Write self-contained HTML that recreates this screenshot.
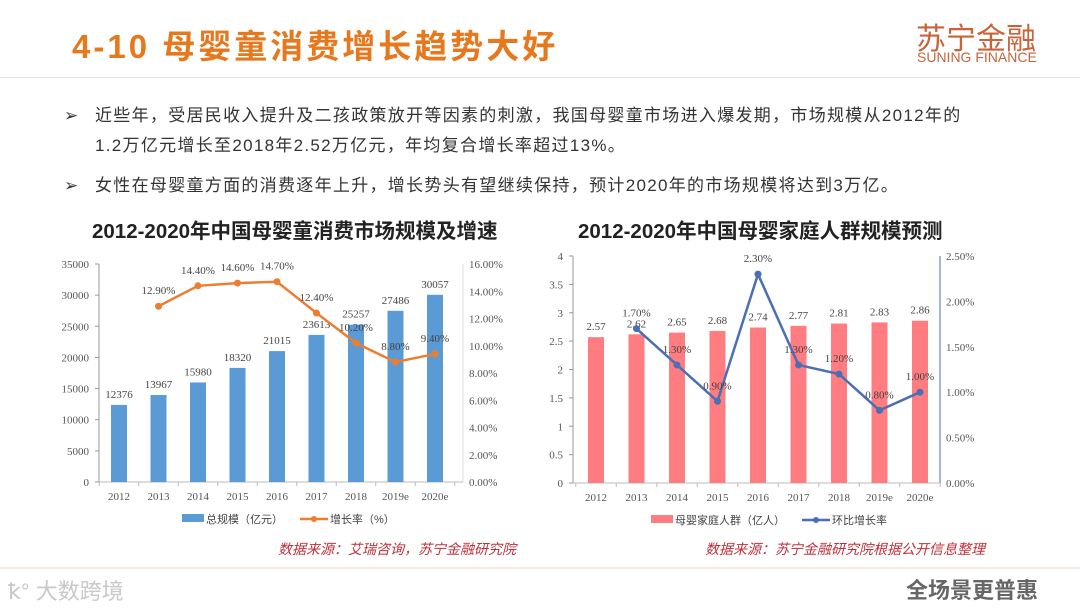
<!DOCTYPE html>
<html><head><meta charset="utf-8">
<style>
body{margin:0;width:1080px;height:608px;background:#fff;overflow:hidden;font-family:"Liberation Sans","Noto Sans CJK SC",sans-serif;position:relative}
.abs{position:absolute}
</style></head><body>
<div class="abs" style="left:72px;top:20px;font-size:33px;font-weight:bold;color:#e6781e;letter-spacing:3px;font-family:'Liberation Sans','Noto Sans CJK SC',sans-serif;white-space:nowrap">4-10 母婴童消费增长趋势大好</div>
<div class="abs" style="left:916px;top:14px;font-size:30px;color:#c8633a;white-space:nowrap">苏宁金融</div>
<div class="abs" style="left:917px;top:49px;font-size:14px;color:#c8633a;white-space:nowrap">SUNING FINANCE</div>
<div class="abs" style="left:0;top:77px;width:1080px;height:1px;background:#e6e0da"></div>
<div class="abs" style="left:64px;top:101px;font-size:17px;color:#333;line-height:30px;width:1010px;letter-spacing:1.3px">
<span style="position:absolute;left:0">➢</span><div style="margin-left:31px">近些年，受居民收入提升及二孩政策放开等因素的刺激，我国母婴童市场进入爆发期，市场规模从2012年的<br>1.2万亿元增长至2018年2.52万亿元，年均复合增长率超过13%。</div></div>
<div class="abs" style="left:64px;top:173px;font-size:17px;color:#333;line-height:26px;width:1010px;letter-spacing:1.3px">
<span style="position:absolute;left:0">➢</span><div style="margin-left:31px">女性在母婴童方面的消费逐年上升，增长势头有望继续保持，预计2020年的市场规模将达到3万亿。</div></div>
<div class="abs" style="left:92px;top:214px;font-size:20.5px;font-weight:bold;color:#222;white-space:nowrap">2012-2020年中国母婴童消费市场规模及增速</div>
<div class="abs" style="left:578px;top:214px;font-size:20.5px;font-weight:bold;color:#222;white-space:nowrap">2012-2020年中国母婴家庭人群规模预测</div>
<div class="abs" style="left:278px;top:539px;font-size:14px;font-style:italic;color:#c0303a">数据来源：艾瑞咨询，苏宁金融研究院</div>
<div class="abs" style="left:705px;top:539px;font-size:14px;font-style:italic;color:#c0303a">数据来源：苏宁金融研究院根据公开信息整理</div>
<div class="abs" style="left:0;top:567px;width:1080px;height:2px;background:#f3ece6"></div>
<div class="abs" style="left:8px;top:574px;font-size:22px;color:#c8c8c8">ꝁ° 大数跨境</div>
<div class="abs" style="left:906px;top:573px;font-size:22px;color:#666;font-weight:bold">全场景更普惠</div>
<svg id="chart" class="abs" style="left:0;top:0" width="1080" height="608"></svg>
<script>
const cats=["2012","2013","2014","2015","2016","2017","2018","2019e","2020e"];
const scaleVals=[12376,13967,15980,18320,21015,23613,25257,27486,30057];
const growthVals=[null,12.9,14.4,14.6,14.7,12.4,10.2,8.8,9.4];
const leftTicks=[0,5000,10000,15000,20000,25000,30000,35000];
const leftRTicks=[0,2,4,6,8,10,12,14,16];
const familyVals=[2.57,2.62,2.65,2.68,2.74,2.77,2.81,2.83,2.86];
const familyGrowth=[null,1.7,1.3,0.9,2.3,1.3,1.2,0.8,1.0];
const rightTicks=[0,0.5,1,1.5,2,2.5,3,3.5,4];
const rightRTicks=[0,0.5,1,1.5,2,2.5];
const svg=document.getElementById('chart');
const NS='http://www.w3.org/2000/svg';
function mk(t,a,txt){const e=document.createElementNS(NS,t);for(const k in a)e.setAttribute(k,a[k]);if(txt!=null)e.textContent=txt;svg.appendChild(e);return e;}
const F='"Liberation Serif","Noto Serif CJK SC",serif';
function draw(o){
 const x=i=>o.x0+i*o.step, yL=v=>o.yb-(v/o.lmax)*(o.yb-o.yt), yR=v=>o.yb-(v/o.rmax)*(o.yb-o.yt);
 let e=mk('line',{x1:o.ax,y1:o.yt,x2:o.ax,y2:o.yb,stroke:'#999'});
 e=mk('line',{x1:o.rx,y1:o.yt,x2:o.rx,y2:o.yb,stroke:o.raxc});
 e=mk('line',{x1:o.ax,y1:o.yb,x2:o.rx,y2:o.yb,stroke:'#bbb'});
 o.lt.forEach(v=>{const t=mk('text',{x:o.ax-10,y:yL(v)+4,'text-anchor':'end','font-size':11,fill:'#555','font-family':F},String(v));
  const k=mk('line',{x1:o.ax-4,y1:yL(v),x2:o.ax,y2:yL(v),stroke:'#999'});});
 o.rt.forEach(v=>{const t=mk('text',{x:o.rx+6,y:yR(v)+4,'font-size':11,fill:'#555','font-family':F},v.toFixed(2)+'%');});
 for(let i=0;i<=cats.length;i++){const k=mk('line',{x1:x(i)-o.step/2,y1:o.yb,x2:x(i)-o.step/2,y2:o.yb+4,stroke:'#bbb'});}
 cats.forEach((c,i)=>{const t=mk('text',{x:x(i),y:o.yb+18,'text-anchor':'middle','font-size':11,fill:'#555','font-family':F},c);});
 o.bars.forEach((v,i)=>{const b=mk('rect',{x:x(i)-8,y:yL(v),width:16,height:o.yb-yL(v),fill:o.bc});
  const t=mk('text',{x:x(i),y:yL(v)-7,'text-anchor':'middle','font-size':11,fill:'#444','font-family':F},String(v));});
 const pts=[];o.line.forEach((v,i)=>{if(v!=null)pts.push([x(i),yR(v),v]);});
 const pl=mk('polyline',{points:pts.map(p=>p[0]+','+p[1]).join(' '),fill:'none',stroke:o.lc,'stroke-width':2.5});
 pts.forEach(p=>{const c=mk('circle',{cx:p[0],cy:p[1],r:3.5,fill:o.lc});
  const t=mk('text',{x:p[0],y:p[1]-12,'text-anchor':'middle','font-size':11,fill:'#444','font-family':F},p[2].toFixed(2)+'%');});
 const ly=o.yb+37;
 let r=mk('rect',{x:o.lg1,y:ly-5,width:22,height:8,fill:o.bc});
 let t=mk('text',{x:o.lg1+24,y:ly+4,'font-size':11,fill:'#444'},o.n1);
 r=mk('line',{x1:o.lg2,y1:ly,x2:o.lg2+28,y2:ly,stroke:o.lc,'stroke-width':2.5});
 r=mk('circle',{cx:o.lg2+14,cy:ly,r:3,fill:o.lc});
 t=mk('text',{x:o.lg2+30,y:ly+4,'font-size':11,fill:'#444'},o.n2);
}
draw({p:'left',x0:119,step:39.5,ax:99,rx:463,yt:264,yb:482,lmax:35000,rmax:16,lt:leftTicks,rt:leftRTicks,bars:scaleVals,line:growthVals,bc:'#5b9bd5',lc:'#ed7d31',raxc:'#ddd',lg1:182,lg2:300,n1:'总规模（亿元）',n2:'增长率（%）'});
draw({p:'right',x0:596,step:40.5,ax:573,rx:940,yt:256,yb:483,lmax:4,rmax:2.5,lt:rightTicks,rt:rightRTicks,bars:familyVals,line:familyGrowth,bc:'#ff7c80',lc:'#4a6fb5',raxc:'#4a6fb5',lg1:651,lg2:802,n1:'母婴家庭人群（亿人）',n2:'环比增长率'});
</script>
</body></html>
